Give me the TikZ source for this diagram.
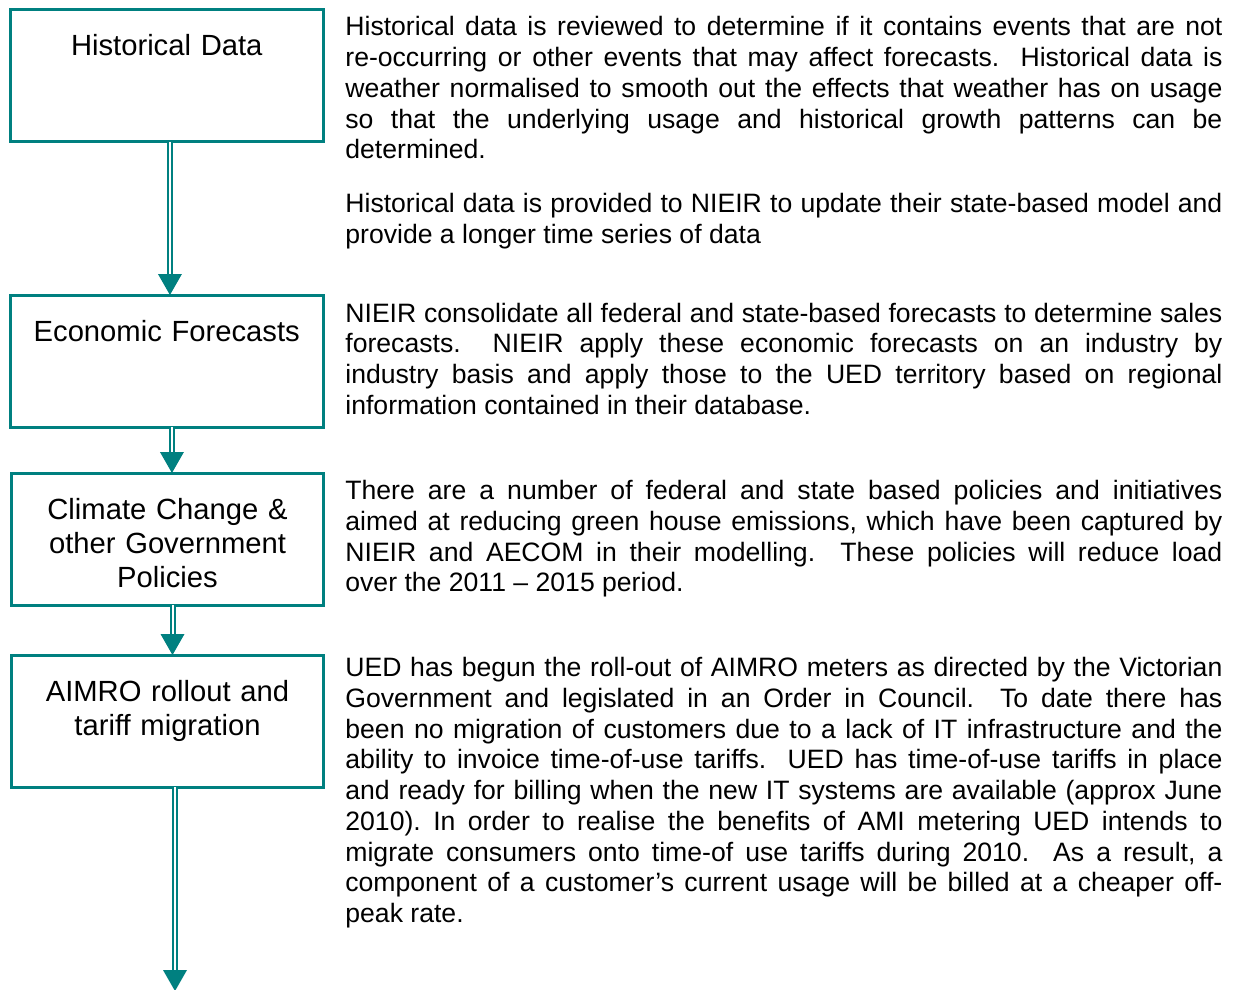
\documentclass[tikz,border=0pt]{standalone}
\usepackage{fontspec}
\setmainfont{Liberation Sans}
\usetikzlibrary{decorations.markings}
\definecolor{boxteal}{RGB}{0,128,128}
\tolerance=10000
\hbadness=10000
\frenchspacing

\begin{document}
\begin{tikzpicture}[x=0.5pt,y=-0.5pt,
  stage/.style={draw=boxteal,line width=1.5pt,outer sep=0pt,inner sep=0pt,
    minimum width=156.25pt,minimum height=66pt,text width=150pt,align=center,
    text height=23pt,text depth=43pt,anchor=north,
    font=\fontsize{14.6}{17}\selectfont},
  note/.style={text width=438.5pt,align=justify,inner sep=0pt,anchor=base west,
    font=\fontsize{13.3}{15.375}\selectfont},
  flow/.style={draw=boxteal,line width=1pt,double=white,double distance=1pt,
    shorten >=9pt,
    postaction={decorate,decoration={markings,mark=at position 1 with
      {\fill[boxteal,shorten >=0pt] (0pt,0pt) -- (-10.5pt,6pt) -- (-10.5pt,-6pt) -- cycle;}}}}]
\useasboundingbox (0,0) rectangle (1233,990);

\node[stage] (hist) at (166.75,10) {Historical Data};
\node[stage] (econ) at (166.75,295) {Economic Forecasts};
\node[stage] (clim) at (167.5,473) {Climate Change \&\\other Government\\Policies};
\node[stage] (aimro) at (167.5,655) {AIMRO rollout and\\tariff migration};
\coordinate (out) at (175,991);

\draw[flow] ([xshift=1.6pt]hist.south) -- ([xshift=1.6pt]econ.north);
\draw[flow] ([xshift=2.6pt]econ.south) -- ([xshift=2.6pt]econ.south |- clim.north);
\draw[flow] ([xshift=2.5pt]clim.south) -- ([xshift=2.5pt]aimro.north);
\draw[flow] ([xshift=3.75pt]aimro.south) -- (out);

\node[note] (histtxt) at (345,36) {Historical data is reviewed to determine if it contains events that are not\linebreak
re-occurring or other events that may affect forecasts.\ \ Historical data is\linebreak
weather normalised to smooth out the effects that weather has on usage\linebreak
so that the underlying usage and historical growth patterns can be\linebreak
determined.};
\node[note] (nieirtxt) at (345,213) {Historical data is provided to NIEIR to update their state-based model and\linebreak
provide a longer time series of data};
\node[note] (econtxt) at (345,322) {NIEIR consolidate all federal and state-based forecasts to determine sales\linebreak
forecasts.\ \ NIEIR apply these economic forecasts on an industry by\linebreak
industry basis and apply those to the UED territory based on regional\linebreak
information contained in their database.};
\node[note] (climtxt) at (345,499.5) {There are a number of federal and state based policies and initiatives\linebreak
aimed at reducing green house emissions, which have been captured by\linebreak
NIEIR and AECOM in their modelling.\ \ These policies will reduce load\linebreak
over the 2011 -- 2015 period.};
\node[note] (aimrotxt) at (345,676.5) {UED has begun the roll-out of AIMRO meters as directed by the Victorian\linebreak
Government and legislated in an Order in Council.\ \ To date there has\linebreak
been no migration of customers due to a lack of IT infrastructure and the\linebreak
ability to invoice time-of-use tariffs.\ \ UED has time-of-use tariffs in place\linebreak
and ready for billing when the new IT systems are available (approx June\linebreak
2010). In order to realise the benefits of AMI metering UED intends to\linebreak
migrate consumers onto time-of use tariffs during 2010.\ \ As a result, a\linebreak
component of a customer’s current usage will be billed at a cheaper off-\linebreak
peak rate.};
\end{tikzpicture}
\end{document}
